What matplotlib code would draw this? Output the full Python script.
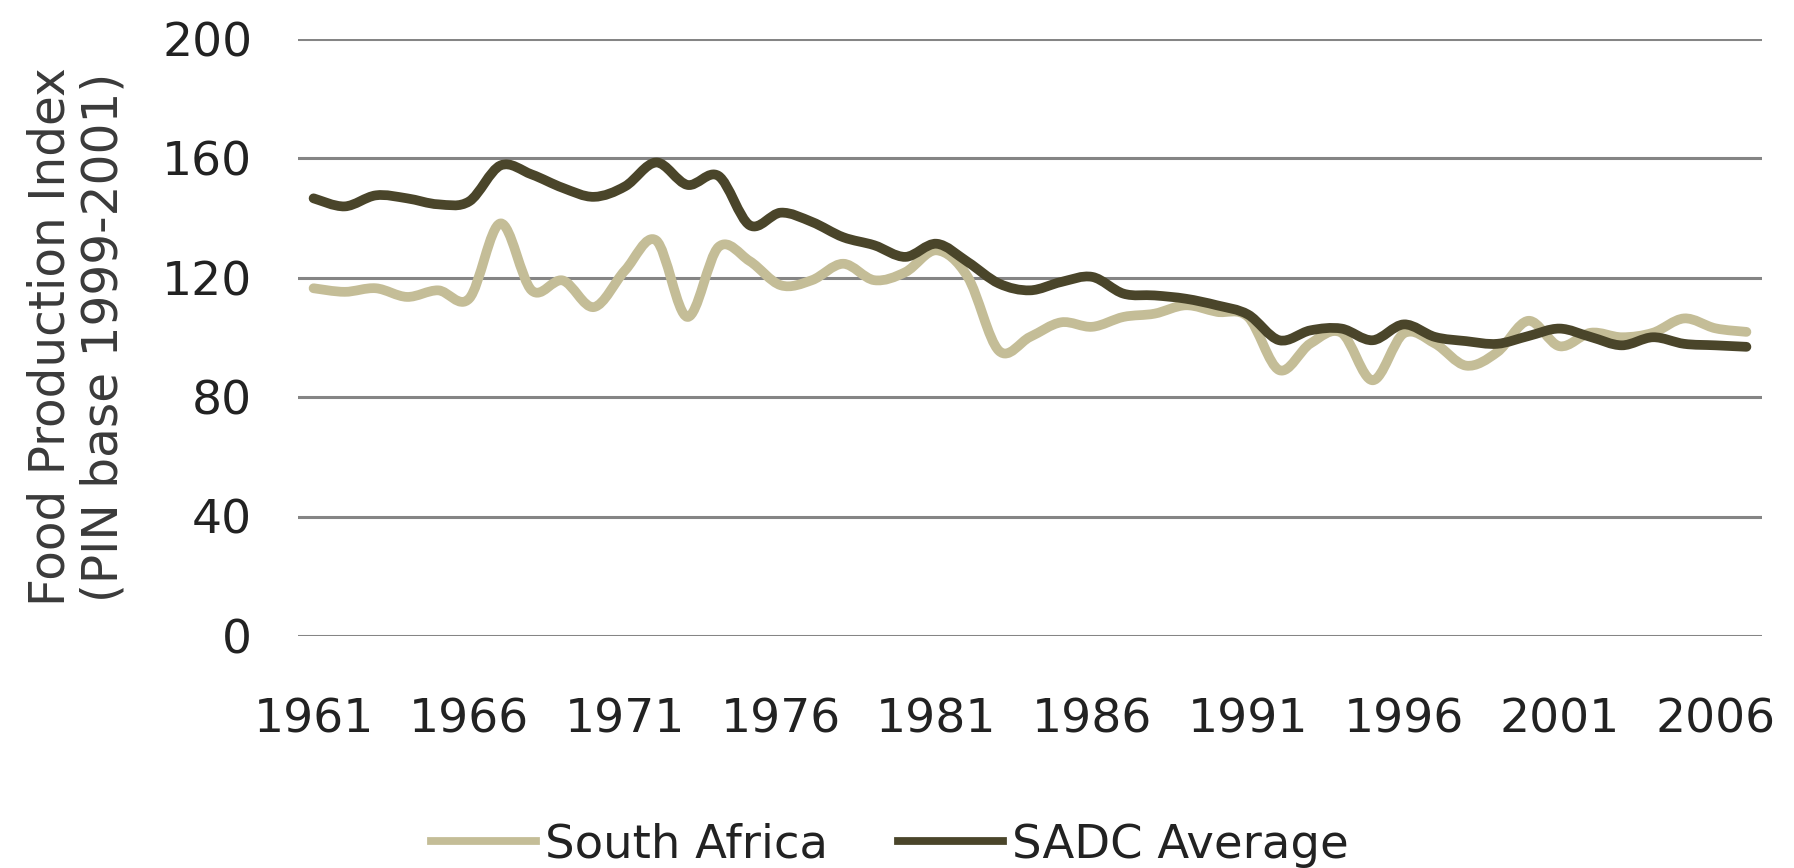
import matplotlib
matplotlib.use("Agg")
import matplotlib.pyplot as plt
from matplotlib.path import Path
from matplotlib.patches import PathPatch
from matplotlib.lines import Line2D

years = list(range(1961, 2008))
south_africa = [116.4, 115.2, 116.4, 113.5, 115.7, 113.0, 138.1, 115.7, 119.0, 110.1,
                122.4, 132.4, 106.8, 130.2, 125.5, 117.4, 119.1, 124.6, 119.1, 121.8,
                129.1, 120.2, 95.5, 100.1, 105.0, 103.5, 106.8, 107.9, 110.7, 108.5,
                106.8, 89.0, 97.9, 101.5, 85.6, 101.3, 97.9, 90.5, 95.0, 105.5,
                97.0, 101.5, 100.0, 101.5, 106.3, 103.0, 101.8]
sadc_average = [146.5, 143.8, 147.5, 146.5, 144.5, 145.5, 157.5, 154.5, 150.0, 147.0,
                150.5, 158.5, 151.0, 154.0, 137.5, 141.7, 138.6, 133.5, 130.8, 126.9,
                131.3, 125.2, 118.0, 115.7, 118.5, 120.2, 114.6, 114.0, 112.9, 110.7,
                107.6, 99.0, 102.3, 102.9, 99.0, 104.3, 100.1, 98.7, 97.8, 100.4,
                102.9, 100.1, 97.3, 100.0, 97.8, 97.3, 96.8]
series_names = ["South Africa", "SADC Average"]
series_colors = ["#c4bd97", "#4a452a"]
yticks = [0, 40, 80, 120, 160, 200]
xtick_labels = [str(y) for y in years[::5]]

FS = 34
LW = 7.0


def smooth_path(xs, ys):
    n = len(xs)
    verts = [(xs[0], ys[0])]
    codes = [Path.MOVETO]
    for i in range(n - 1):
        x0, y0 = (xs[i - 1], ys[i - 1]) if i > 0 else (xs[i], ys[i])
        x1, y1 = xs[i], ys[i]
        x2, y2 = xs[i + 1], ys[i + 1]
        x3, y3 = (xs[i + 2], ys[i + 2]) if i + 2 < n else (x2, y2)
        c1 = (x1 + (x2 - x0) / 6.0, y1 + (y2 - y0) / 6.0)
        c2 = (x2 - (x3 - x1) / 6.0, y2 - (y3 - y1) / 6.0)
        verts += [c1, c2, (x2, y2)]
        codes += [Path.CURVE4] * 3
    return Path(verts, codes)


fig = plt.figure(figsize=(17.94, 8.68), dpi=100)
ax = fig.add_axes([298 / 1794, 1 - 636 / 868, 1464 / 1794, (636 - 38.5) / 868])

xs = list(range(len(years)))
for vals, color in zip([south_africa, sadc_average], series_colors):
    patch = PathPatch(smooth_path(xs, vals), fill=False, edgecolor=color,
                      linewidth=LW, capstyle="round", joinstyle="round", zorder=3)
    ax.add_patch(patch)

ax.set_xlim(-0.5, len(years) - 0.5)
ax.set_ylim(0, 200)
ax.set_yticks(yticks)
ax.set_yticklabels([str(v) for v in yticks])
ax.set_xticks(xs[::5])
ax.set_xticklabels(xtick_labels)
ax.grid(axis="y", color="#858585", linewidth=2.2, zorder=1)
ax.set_axisbelow(True)
for s in ax.spines.values():
    s.set_visible(False)
ax.tick_params(axis="both", length=0, labelsize=FS, colors="#222222")
ax.tick_params(axis="y", pad=33)
ax.tick_params(axis="x", pad=44)

fig.text(128 / 1794, 1 - 337 / 868, "Food Production Index\n(PIN base 1999-2001)",
         rotation=90, ha="right", va="center", multialignment="center",
         fontsize=35, color="#3a3a3a", linespacing=1.15)

handles = [Line2D([], [], color=c, linewidth=LW * 0.8) for c in series_colors]
fig.legend(handles, series_names, loc="center", bbox_to_anchor=(0.496, 1 - 845 / 868),
           ncol=2, frameon=False, fontsize=33.5, handlelength=2.25,
           handletextpad=0.2, columnspacing=1.5, borderpad=0, labelcolor="#222222")

fig.savefig("out.png", dpi=100)
